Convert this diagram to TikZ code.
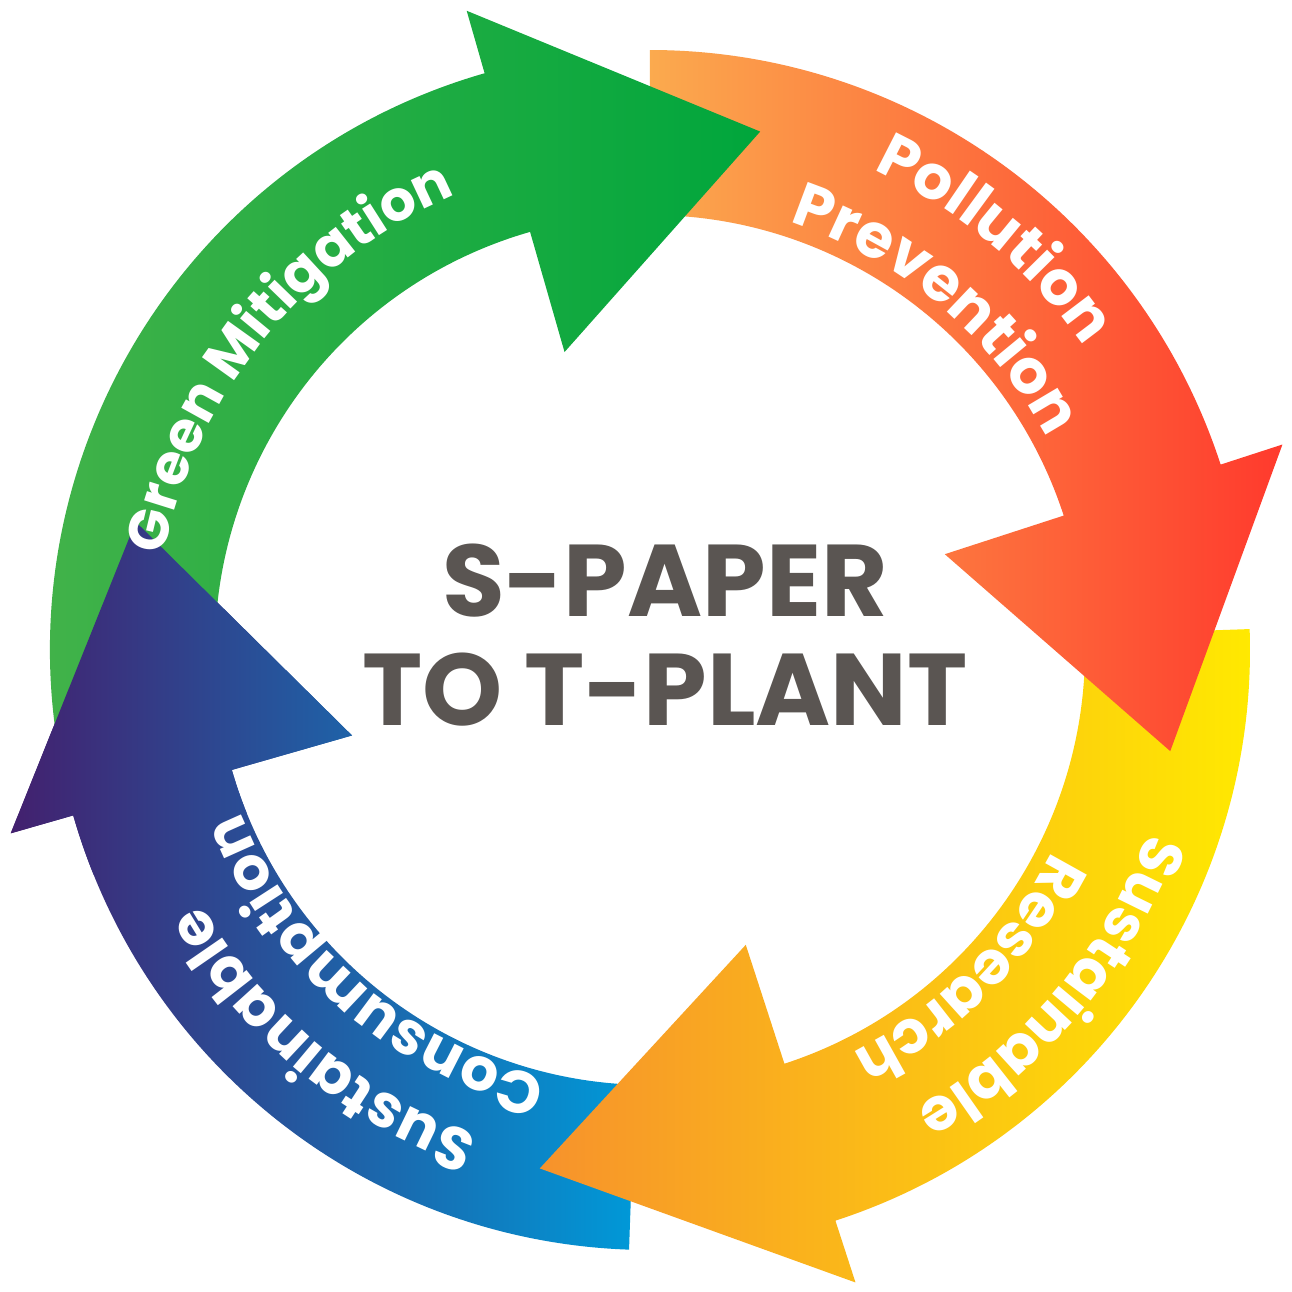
\documentclass[tikz,border=0pt]{standalone}
\usepackage{fontspec}
\newfontfamily\pop{Poppins}
\usetikzlibrary{decorations.text}
\definecolor{grA}{HTML}{45B34A}
\definecolor{grB}{HTML}{00A63C}
\definecolor{rdA}{HTML}{FBAA4E}
\definecolor{rdB}{HTML}{FF3A2D}
\definecolor{yeA}{HTML}{F7922C}
\definecolor{yeB}{HTML}{FFEA00}
\definecolor{puA}{HTML}{43206E}
\definecolor{puB}{HTML}{0099D8}
\definecolor{ctext}{HTML}{5A5552}
\newcommand{\arrowshape}[3]{(#1:6.0) arc[start angle=#1, end angle=#2, radius=6.0] -- (#2:6.65) -- (#3:5.3) -- (#2:3.1) -- (#2:4.35) arc[start angle=#2, end angle=#1, radius=4.35] -- cycle}
\newcommand{\arctext}[5]{\path[decorate, decoration={text along path, text align=center,
     text={|\pop\bfseries\fontsize{#5}{#5}\selectfont\color{white}|#4}}] (#1:#3) arc[start angle=#1, end angle=#2, radius=#3];}
\begin{document}
\begin{tikzpicture}
\useasboundingbox[fill=white] (-6.5,-6.42) rectangle (6.42,6.5);
\shade[left color=puA, right color=puB] \arrowshape{-92}{-164}{-194};
\shade[left color=yeA, right color=yeB] \arrowshape{2}{-72}{-102};
\shade[left color=rdA, right color=rdB] \arrowshape{90}{18}{-11};
\shade[left color=grA, right color=grB] \arrowshape{190}{106}{78};
\begin{scope}
\clip (0,0) -- (-158:8) arc[start angle=-158, end angle=-200, radius=8] -- cycle;
\shade[left color=puA, right color=puB] \arrowshape{-92}{-164}{-194};
\end{scope}
\arctext{178}{104}{4.95}{Green Mitigation}{16}
\arctext{80}{20}{5.3}{Pollution}{17.5}
\arctext{85}{15}{4.5}{Prevention}{17.5}
\arctext{-8}{-72}{5.3}{Sustainable}{17}
\arctext{-12}{-78}{4.5}{Research}{17}
\arctext{-98}{-162}{5.15}{Sustainable}{17}
\arctext{-96}{-166}{4.4}{Consumption}{17}
\node[text=ctext, font=\pop\bfseries\fontsize{29}{31}\selectfont, align=center] (title) at (0.15,0.15) {S-PAPER\\TO T-PLANT};
\end{tikzpicture}
\end{document}
